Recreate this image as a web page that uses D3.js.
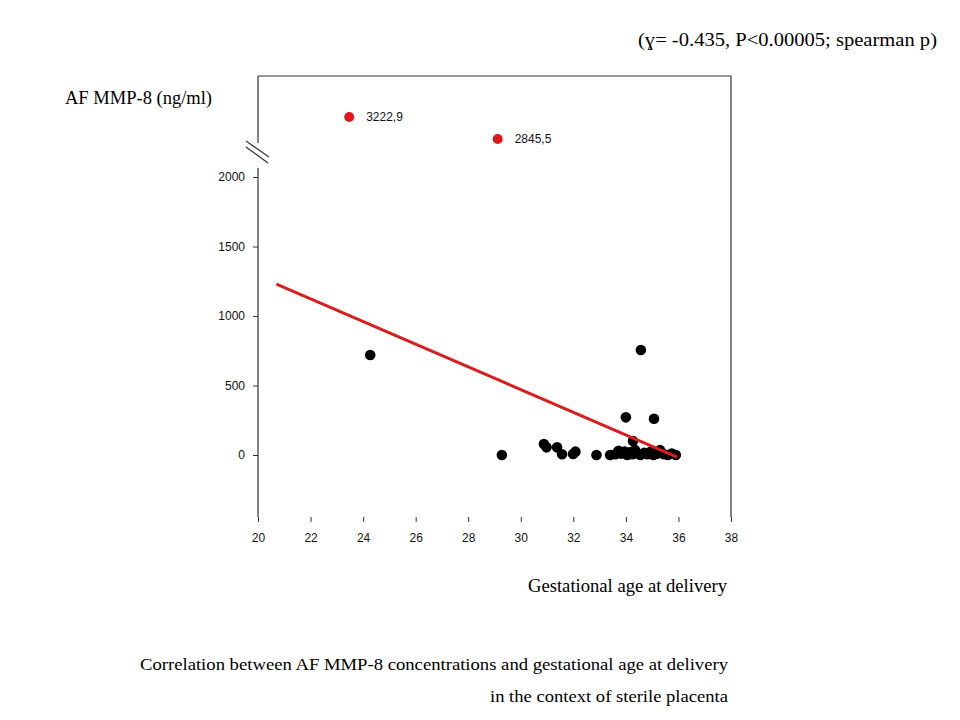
<!DOCTYPE html>
<html><head><meta charset="utf-8">
<script src="https://cdn.jsdelivr.net/npm/d3@7"></script>
<style>body{margin:0;background:#fff}svg{display:block}</style>
</head><body>
<script>
// ---- data ----
const xTicks = [20,22,24,26,28,30,32,34,36,38];
const yTicks = [0,500,1000,1500,2000];
// black points (gestational age, AF MMP-8)
const ageBlack = [24.27,29.28,30.88,30.98,31.38,31.57,31.99,32.08,32.88,
  33.4,33.6,33.72,33.82,33.95,34.05,34.15,34.25,34.35,34.45,34.55,34.7,34.82,34.95,35.05,35.2,35.3,35.45,35.6,35.75,35.9,
  34.0,34.57,35.07,34.27];
const mmpBlack = [719,0,79,55,55,5,7,24,0,
  0,5,30,10,25,0,20,5,35,10,0,15,5,25,0,10,35,5,0,10,0,
  271,755,261,100];
// red outliers above axis break
const ageRed = [23.47,29.12];
const mmpRed = [3222.9,2845.5];
const redLabels = ["3222,9","2845,5"];
// regression line endpoints
const lineAge = [20.7,35.95];
const lineMmp = [1230,-15];

// ---- layout ----
const W=960,H=720;
const svg=d3.select("body").append("svg").attr("width",W).attr("height",H);
const L=258,R=731,T=76,B=517;
const x=d3.scaleLinear().domain([20,38]).range([L,R]);
const y=d3.scaleLinear().domain([0,2000]).range([455,177]);
const yHigh=d3.scaleLinear().domain([2600,3925]).range([153.3,76]);
const axisCol="#333";

// frame: top, right, bottom
svg.append("path").attr("d",`M${L},${T}H${R}V${B}`).attr("fill","none").attr("stroke",axisCol).attr("stroke-width",1.2);
// left axis with break
svg.append("line").attr("x1",L).attr("x2",L).attr("y1",T).attr("y2",143).attr("stroke",axisCol).attr("stroke-width",1.2);
svg.append("line").attr("x1",L).attr("x2",L).attr("y1",168).attr("y2",B).attr("stroke",axisCol).attr("stroke-width",1.2);
[[246,141,269,157],[246,147,268,163]].forEach(s=>svg.append("line").attr("x1",s[0]).attr("y1",s[1]).attr("x2",s[2]).attr("y2",s[3]).attr("stroke",axisCol).attr("stroke-width",1.2));

// axes
const xa=svg.append("g").attr("transform",`translate(0,${B})`)
  .call(d3.axisBottom(x).tickValues(xTicks).tickSize(5).tickFormat(d3.format("d")));
const ya=svg.append("g").attr("transform",`translate(${L},0)`)
  .call(d3.axisLeft(y).tickValues(yTicks).tickSize(5).tickFormat(d3.format("d")));
[xa,ya].forEach(g=>{g.select(".domain").remove();
  g.selectAll("line").attr("stroke",axisCol);
  g.selectAll("text").attr("font-family","Liberation Sans, Arial, sans-serif").attr("font-size",12).attr("fill","#111");});
xa.selectAll("text").attr("dy","1.45em");
ya.selectAll("text").attr("x",-13);

// black points
svg.append("g").selectAll("circle").data(ageBlack).join("circle")
  .attr("cx",d=>x(d)).attr("cy",(d,i)=>y(mmpBlack[i])).attr("r",5.3).attr("fill","#000");

// regression line (drawn over the points)
svg.append("line").attr("x1",x(lineAge[0])).attr("y1",y(lineMmp[0])).attr("x2",x(lineAge[1])).attr("y2",y(lineMmp[1]))
  .attr("stroke","#d81e1e").attr("stroke-width",3);

// red points
svg.append("g").selectAll("circle").data(ageRed).join("circle")
  .attr("cx",d=>x(d)).attr("cy",(d,i)=>yHigh(mmpRed[i])).attr("r",5).attr("fill","#e0161b");
svg.append("g").selectAll("text").data(ageRed).join("text")
  .attr("x",d=>x(d)+17).attr("y",(d,i)=>yHigh(mmpRed[i])+4.5)
  .attr("font-family","Liberation Sans, Arial, sans-serif").attr("font-size",12).attr("fill","#111")
  .text((d,i)=>redLabels[i]);

// texts
const serif="Liberation Serif, Times New Roman, serif";
function txt(s,x0,x1,yy,size){svg.append("text").attr("x",x0).attr("y",yy)
  .attr("font-family",serif).attr("font-size",size).attr("fill","#000")
  .attr("textLength",x1-x0).attr("lengthAdjust","spacingAndGlyphs").text(s);}
txt("(\u0263= -0.435, P<0.00005; spearman p)",638,937,46,18);
txt("AF MMP-8 (ng/ml)",65,212,104,18);
txt("Gestational age at delivery",528,727,592,18);
txt("Correlation between AF MMP-8 concentrations and gestational age at delivery",140,728,670,17);
txt("in the context of sterile placenta",490,728,702,17);
</script>
</body></html>
